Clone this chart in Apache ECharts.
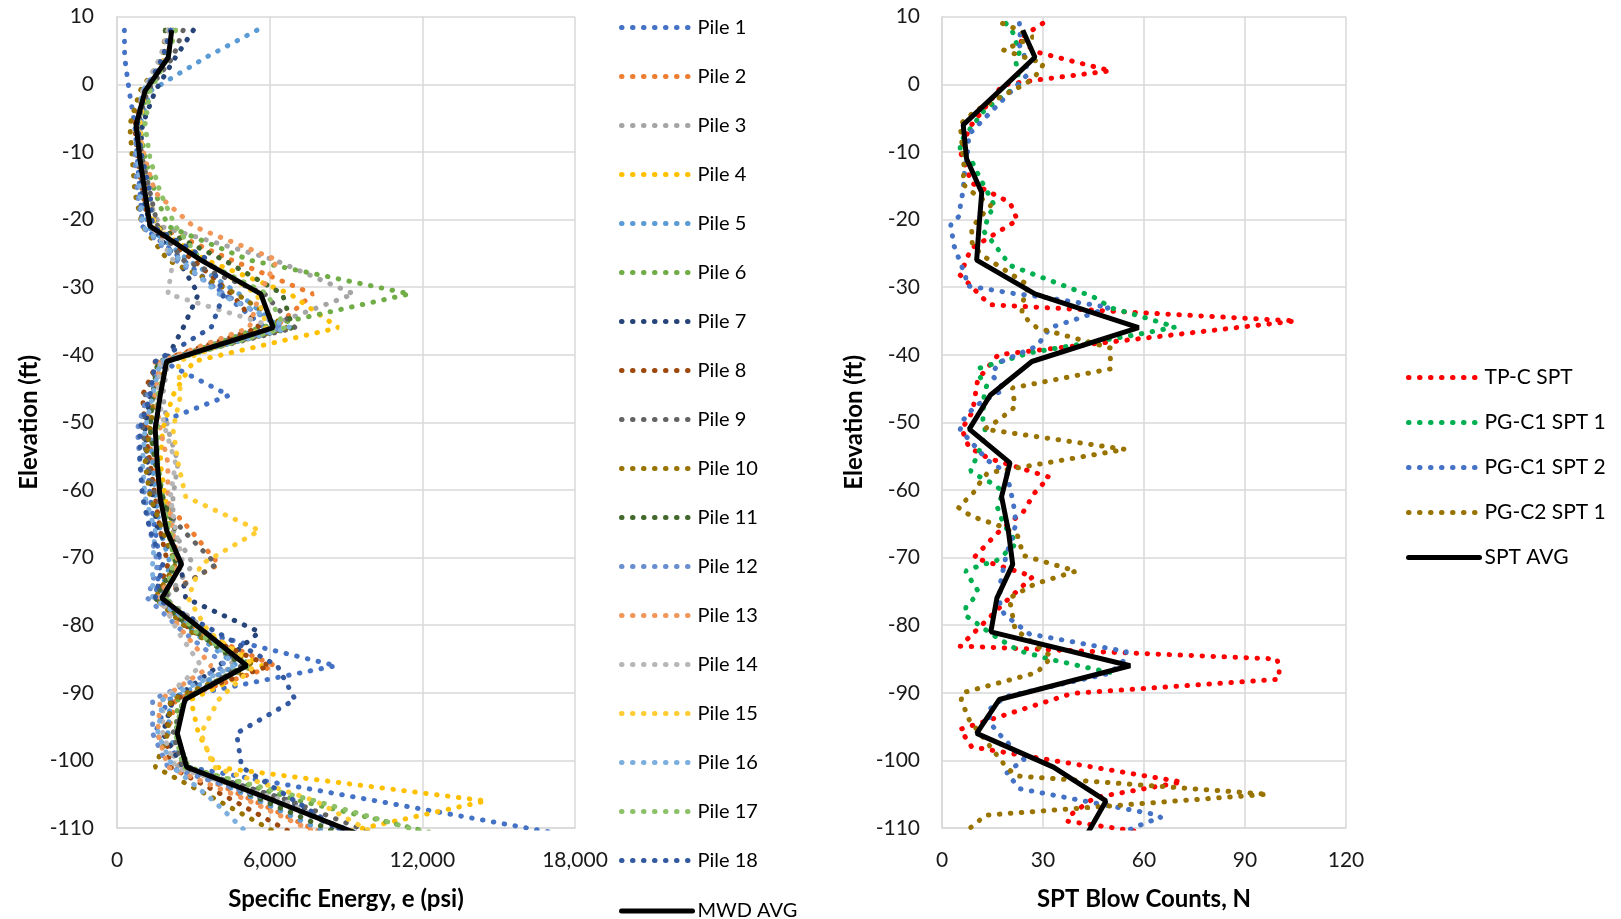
<!DOCTYPE html>
<html>
<head>
<meta charset="utf-8">
<script src="https://cdn.jsdelivr.net/npm/echarts@6/dist/echarts.min.js"></script>
<style>
html, body { margin: 0; padding: 0; background: #fff; }
#chart { width: 1621px; height: 919px; }
</style>
</head>
<body>
<div id="chart"></div>
<script>
// elevation (ft) of the MWD readings, shared by every pile and the average
const pileDepth = [8, 4, -1, -6, -11, -16, -21, -26, -31, -36, -41, -46, -51, -56, -61, -66, -71, -76, -81, -86, -91, -96, -101, -106, -111];

// specific energy e (psi) for each pile
const pile1  = [290, 300, 480, 700, 800, 900, 1000, 2600, 4200, 5800, 1800, 4400, 1000, 1200, 1300, 1500, 1700, 1500, 3200, 8600, 2000, 1500, 2800, 10200, 17600];
const pile2  = [2300, 1900, 1200, 900, 1000, 1200, 1600, 4500, 7700, 6200, 1500, 1300, 1200, 1400, 1700, 2900, 4000, 1600, 3200, 6200, 2300, 2000, 2500, 5400, 8200];
const pile3  = [2000, 1800, 1100, 800, 900, 1100, 1700, 6200, 9300, 5800, 2000, 1800, 2000, 2400, 2200, 2200, 3000, 1900, 3600, 4600, 2200, 1900, 2400, 6000, 9500];
const pile4  = [2200, 2000, 1100, 800, 900, 1100, 1400, 3500, 6800, 8700, 3000, 2200, 1800, 1700, 1900, 2100, 2300, 1800, 3400, 5700, 2900, 3200, 3900, 14500, 8500];
const pile5  = [5500, 3500, 1300, 900, 900, 1000, 1200, 2800, 4800, 6400, 1900, 1500, 1300, 1400, 1500, 1700, 2100, 1600, 3000, 4700, 2100, 2000, 2700, 5600, 8400];
const pile6  = [2100, 1900, 1200, 900, 1100, 1500, 2000, 5200, 11500, 5600, 1900, 1600, 1500, 1600, 1800, 2000, 2300, 1900, 3300, 5300, 2400, 2300, 2800, 7200, 12700];
const pile7  = [3000, 2300, 1500, 1000, 900, 1000, 1300, 2400, 3200, 2600, 1900, 1300, 1100, 1200, 1400, 1600, 2500, 2700, 5600, 4000, 2200, 1800, 2600, 6800, 9000];
const pile8  = [2000, 1800, 1000, 700, 800, 1000, 1300, 3000, 4500, 5600, 1600, 1000, 1100, 1300, 1500, 1700, 2000, 1500, 3000, 6000, 2200, 1900, 2100, 4600, 7000];
const pile9  = [2600, 2200, 1200, 800, 1000, 1300, 1600, 2600, 5800, 7000, 1700, 1100, 1000, 1200, 1500, 2600, 3900, 1800, 3300, 4900, 2700, 2200, 2600, 6800, 10200];
const pile10 = [1900, 1800, 900, 500, 600, 700, 1000, 2000, 4700, 6700, 1800, 1500, 1300, 1100, 1300, 1800, 2300, 1500, 2900, 5400, 2100, 2000, 1500, 4000, 6400];
const pile11 = [1900, 1900, 1100, 800, 1000, 1200, 1500, 4200, 6500, 6900, 1600, 1400, 1300, 1500, 1800, 2300, 2300, 1500, 3100, 5000, 2600, 2300, 2800, 5800, 8800];
const pile12 = [2100, 1900, 1000, 800, 700, 800, 1000, 2300, 4200, 6500, 1800, 1200, 800, 900, 1100, 1300, 1600, 1200, 2600, 4300, 1400, 1400, 2000, 6200, 9600];
const pile13 = [2200, 2000, 1100, 800, 1100, 1500, 3000, 6300, 5600, 5200, 1700, 1500, 1700, 2000, 2000, 2200, 2400, 1600, 2600, 3700, 1700, 1600, 2000, 5200, 8000];
const pile14 = [2000, 1700, 1000, 800, 900, 1100, 1400, 2200, 2000, 6300, 1700, 1600, 1900, 2300, 2100, 2300, 2600, 1700, 2400, 3300, 1800, 1800, 2300, 6600, 9200];
const pile15 = [2200, 1900, 1100, 900, 1000, 1200, 1500, 3400, 5500, 5900, 2400, 2500, 2200, 2400, 2700, 5600, 3300, 2800, 3600, 5400, 4000, 3300, 3800, 7800, 10200];
const pile16 = [2200, 2000, 1000, 800, 800, 900, 1000, 2500, 4000, 6800, 1700, 1400, 1100, 1000, 1100, 1500, 1400, 1400, 3500, 4600, 1800, 1600, 2200, 3800, 5200];
const pile17 = [2300, 2000, 1300, 1100, 1300, 1700, 2300, 3300, 5900, 6600, 2000, 1600, 1600, 1600, 1700, 2100, 2200, 1900, 3100, 5200, 2600, 2300, 2600, 7800, 12400];
const pile18 = [2100, 1800, 1100, 800, 1000, 1300, 1400, 3600, 4200, 3700, 1500, 1300, 900, 900, 1000, 1300, 1800, 1500, 3900, 6300, 7000, 4700, 4900, 7000, 9100];
const mwdAvg = [2150, 2017, 1100, 750, 900, 1100, 1300, 3300, 5650, 6143, 1950, 1700, 1500, 1580, 1690, 1950, 2540, 1760, 3450, 5100, 2670, 2370, 2740, 6200, 9550];

const pileNames = ['Pile 1', 'Pile 2', 'Pile 3', 'Pile 4', 'Pile 5', 'Pile 6', 'Pile 7', 'Pile 8', 'Pile 9',
  'Pile 10', 'Pile 11', 'Pile 12', 'Pile 13', 'Pile 14', 'Pile 15', 'Pile 16', 'Pile 17', 'Pile 18'];
const piles = [pile1, pile2, pile3, pile4, pile5, pile6, pile7, pile8, pile9,
  pile10, pile11, pile12, pile13, pile14, pile15, pile16, pile17, pile18];
const pileColors = ['#4472C4', '#ED7D31', '#A5A5A5', '#FFC000', '#5B9BD5', '#70AD47', '#264478', '#9E480E', '#636363',
  '#997300', '#43682B', '#698ED0', '#F1975A', '#B7B7B7', '#FFCD33', '#7CAFDD', '#8CC168', '#335AA1'];

// SPT blow counts N and their elevations
const tpcN = [29.9, 22.6, 27.9, 50, 27.6, 18, 8.3, 5.4, 8.8, 20.2, 22.4, 8.6, 5.4, 12.1, 14.3, 105, 16.7, 10.6, 9.1, 5.9, 8, 13.8, 31.8, 27.4, 24.2, 16.4, 9.5, 27, 18.5, 5.4, 99.5, 100.2, 100, 38.6, 5.4, 8.8, 71.3, 45.3, 37.5, 37.3, 59.4];
const tpcElev = [9, 6.7, 4.8, 2, 0.6, -0.1, -6.3, -9.9, -14.6, -17.5, -20.1, -24.3, -28.2, -31.6, -32.6, -35, -40, -43.7, -48.4, -51, -53.7, -55.3, -58.1, -60.5, -63.2, -66.4, -70, -72.8, -76.7, -83.1, -85, -86.4, -88, -90.1, -95.4, -98, -103.2, -105.5, -108.3, -109, -110.6];

const pgc1aN = [19, 21, 23, 22, 23, 17.7, 12.5, 5.4, 5.4, 8.6, 11.3, 14.3, 15.7, 13.8, 12.5, 14.5, 20.3, 44.8, 50.4, 56.9, 69.3, 58.1, 26.2, 11, 11.3, 13.3, 12.5, 12.1, 12.8, 12, 8.5, 11, 14.1, 17, 17.7, 16.4, 17.4, 18.5, 22.2, 16.3, 10.1, 7, 8.7, 10.5, 9.5, 7.1, 7, 9.5, 12.1, 17.5, 23, 32.6, 45.2, 50];
const pgc1aElev = [9, 7.7, 4.8, 3.2, 0, -1.9, -3.9, -8.5, -10, -11.1, -13.9, -16.7, -18.1, -19.3, -21.8, -23, -26.8, -31.4, -33.1, -34, -35.9, -37, -39.7, -42, -43.3, -44.5, -46, -50, -51.1, -53.1, -57.2, -58, -58.8, -59.8, -61, -62.5, -63.9, -65.2, -67.9, -70.4, -71.4, -72, -73.4, -74.8, -76, -77.3, -78.6, -79.4, -80.4, -82.2, -83.8, -85.1, -86.5, -87];

const pgc1bN = [23, 23.2, 23, 24.4, 25.5, 7.8, 7.9, 6.8, 6.3, 4.9, 2.6, 3.5, 7, 7.4, 20.7, 30.4, 49.7, 41.3, 32.1, 30.1, 28.3, 16.7, 14.8, 18.5, 9.8, 5.9, 5.4, 13.7, 19.2, 21.2, 22, 19, 17.2, 17.2, 18.5, 26, 54.7, 54.7, 50, 18.7, 13.5, 15, 17, 24.4, 21.9, 19.2, 23.2, 64.3, 65, 61.8, 58.7, 56];
const pgc1bElev = [9, 7.5, 5.8, 4.3, 1.5, -7.5, -9, -12.4, -15.6, -19.6, -20.8, -23.8, -28.4, -29.8, -30.9, -31.5, -33, -34.5, -36, -37.4, -38.7, -41.2, -43, -45.1, -47.6, -49.9, -51.1, -55.7, -57.4, -62, -65, -69.8, -74.1, -77, -78.4, -81.3, -83.9, -84.9, -87.1, -90.6, -92.7, -94.9, -96.1, -99.9, -100.8, -101.9, -104.2, -108.1, -108.5, -109, -109.6, -110.2];

const pgc2N = [18, 21, 27, 21.2, 18.2, 24, 30.1, 29.3, 27.2, 24.7, 21.7, 10.3, 7.8, 5.4, 6.5, 6.3, 9.1, 14.5, 10.6, 8.8, 9, 12.3, 25.9, 24.4, 23.7, 25.7, 28.2, 50, 50, 50, 24.2, 20.9, 21.7, 17, 12.6, 54.4, 13.5, 11.3, 9.5, 4.9, 8.8, 17.7, 22.4, 24.2, 39.8, 27.6, 20, 21.7, 32.6, 28.2, 6.1, 5.7, 8.1, 19.4, 22.4, 96.7, 13, 8.1];
const pgc2Elev = [9, 8.4, 7, 5.7, 5.1, 4.1, 3.1, 2.1, 1, 0, -0.7, -3.8, -4.8, -5.9, -11.9, -14.8, -16, -17.9, -20.1, -21.3, -23.8, -25.4, -29.8, -31.2, -33.8, -35, -36, -39, -40.6, -42.1, -44.6, -44.9, -47.7, -49.6, -51, -54, -57.5, -58.9, -60.3, -62.6, -63.9, -65.4, -66.7, -69.7, -72, -73.9, -76, -80.6, -84.7, -87, -90, -91.1, -94, -101.2, -102.3, -105, -108.1, -110.1];

const sptAvgN = [24, 27.6, 17, 6.3, 7.3, 11.8, 11, 10.3, 27.6, 58.4, 26.7, 14.3, 8.1, 20.2, 17.7, 19.7, 21, 16.3, 14.5, 55.9, 17, 10.3, 33.1, 48.7, 43];
const sptAvgElev = [8, 4, -1, -6, -11, -16, -21, -26, -31, -36, -41, -46, -51, -56, -61, -66, -71, -76, -81, -86, -91, -96, -101, -106, -111];

const sptNames = ['TP-C SPT', 'PG-C1 SPT 1', 'PG-C1 SPT 2', 'PG-C2 SPT 1', 'SPT AVG'];

const FONT = 'Lato, "Open Sans", sans-serif';
const dotted = [0.5, 10.5];

function pairs(xs, ys) {
  return xs.map((x, i) => [x, ys[i]]);
}

function dotSeries(name, color, data, axis) {
  return {
    name: name,
    type: 'line',
    xAxisIndex: axis,
    yAxisIndex: axis,
    data: data,
    symbol: 'none',
    itemStyle: { color: color },
    lineStyle: { color: color, width: 5, type: dotted, cap: 'round' }
  };
}

function solidSeries(name, data, axis) {
  return {
    name: name,
    type: 'line',
    xAxisIndex: axis,
    yAxisIndex: axis,
    data: data,
    symbol: 'none',
    z: 5,
    itemStyle: { color: '#000' },
    lineStyle: { color: '#000', width: 5 }
  };
}

const series = [];
piles.forEach((vals, i) => {
  series.push(dotSeries(pileNames[i], pileColors[i], pairs(vals, pileDepth), 0));
});
series.push(solidSeries('MWD AVG', pairs(mwdAvg, pileDepth), 0));
series.push(dotSeries('TP-C SPT', '#FF0000', pairs(tpcN, tpcElev), 1));
series.push(dotSeries('PG-C1 SPT 1', '#00B050', pairs(pgc1aN, pgc1aElev), 1));
series.push(dotSeries('PG-C1 SPT 2', '#4472C4', pairs(pgc1bN, pgc1bElev), 1));
series.push(dotSeries('PG-C2 SPT 1', '#997300', pairs(pgc2N, pgc2Elev), 1));
series.push(solidSeries('SPT AVG', pairs(sptAvgN, sptAvgElev), 1));

const gridLine = { color: '#d9d9d9', width: 1.5 };

function xAxisOf(idx, name, max, interval) {
  return {
    type: 'value',
    gridIndex: idx,
    min: 0,
    max: max,
    interval: interval,
    name: name,
    nameLocation: 'middle',
    nameGap: 59,
    nameTextStyle: { fontFamily: FONT, fontWeight: 'bold', fontSize: 24, color: '#000' },
    axisLine: { show: true, onZero: false, lineStyle: gridLine },
    axisTick: { show: false },
    splitLine: { show: true, lineStyle: gridLine },
    axisLabel: {
      margin: 22,
      fontFamily: FONT,
      fontSize: 21,
      color: '#1a1a1a',
      formatter: v => v.toLocaleString('en-US')
    }
  };
}

function yAxisOf(idx, gap, margin) {
  return {
    type: 'value',
    gridIndex: idx,
    min: -110,
    max: 10,
    interval: 10,
    name: 'Elevation (ft)',
    nameLocation: 'middle',
    nameGap: gap,
    nameTextStyle: { fontFamily: FONT, fontWeight: 'bold', fontSize: 24, color: '#000' },
    axisLine: { show: true, onZero: false, lineStyle: gridLine },
    axisTick: { show: false },
    splitLine: { show: true, lineStyle: gridLine },
    axisLabel: { margin: margin, fontFamily: FONT, fontSize: 21, color: '#1a1a1a' }
  };
}

const legendText = { fontFamily: FONT, fontSize: 20, color: '#000' };
const legendIcon = { itemStyle: { opacity: 0 }, lineStyle: { width: 5, cap: 'round' } };

const chart = echarts.init(document.getElementById('chart'));
chart.setOption({
  animation: false,
  backgroundColor: '#fff',
  grid: [
    { left: 117, top: 16.7, width: 458, height: 811.3 },
    { left: 942, top: 16.7, width: 404, height: 811.3 }
  ],
  xAxis: [
    xAxisOf(0, 'Specific Energy, e (psi)', 18000, 6000),
    xAxisOf(1, 'SPT Blow Counts, N', 120, 30)
  ],
  yAxis: [
    yAxisOf(0, 76, 23),
    yAxisOf(1, 76, 22)
  ],
  legend: [
    Object.assign({
      data: pileNames,
      orient: 'vertical',
      left: 619,
      top: 17.5,
      padding: 0,
      itemWidth: 71,
      itemHeight: 20,
      itemGap: 29,
      selectedMode: false,
      textStyle: legendText
    }, legendIcon),
    Object.assign({
      data: ['MWD AVG'],
      orient: 'vertical',
      left: 619,
      top: 901,
      padding: 0,
      itemWidth: 71,
      itemHeight: 20,
      selectedMode: false,
      textStyle: legendText
    }, legendIcon),
    Object.assign({
      data: sptNames,
      orient: 'vertical',
      left: 1406,
      top: 367,
      padding: 0,
      itemWidth: 71,
      itemHeight: 21,
      itemGap: 24,
      selectedMode: false,
      textStyle: { fontFamily: FONT, fontSize: 21, color: '#000' }
    }, legendIcon)
  ],
  series: series
});
</script>
</body>
</html>
